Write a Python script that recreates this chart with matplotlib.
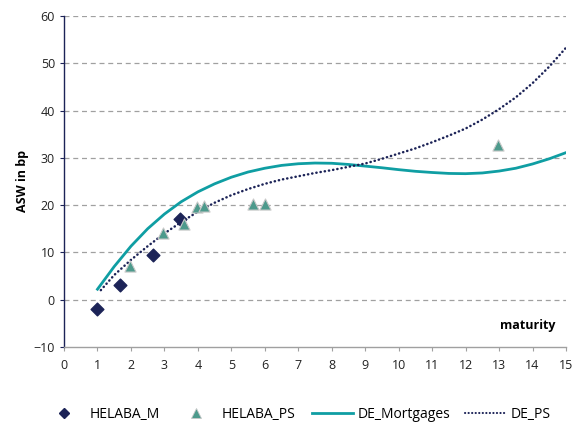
import matplotlib

matplotlib.use("Agg")
import matplotlib.pyplot as plt
from matplotlib.lines import Line2D

# observed spreads
helaba_m_x = [0.99, 1.67, 2.66, 3.47]
helaba_m_y = [-2.0, 3.0, 9.4, 17.0]

helaba_ps_x = [1.97, 2.96, 3.60, 3.97, 4.18, 5.65, 6.00, 12.97]
helaba_ps_y = [7.2, 14.0, 16.0, 19.5, 19.8, 20.3, 20.2, 32.7]

de_mort_x = [1.0, 1.5, 2.0, 2.5, 3.0, 3.5, 4.0, 4.5, 5.0, 5.5, 6.0, 6.5, 7.0, 7.5,
             8.0, 8.5, 9.0, 9.5, 10.0, 10.5, 11.0, 11.5, 12.0, 12.5, 13.0, 13.5,
             14.0, 14.5, 15.0]
de_mort_y = [2.2, 7.0, 11.3, 15.0, 18.1, 20.7, 22.8, 24.5, 25.9, 27.0, 27.8, 28.4,
             28.75, 28.9, 28.85, 28.6, 28.25, 27.9, 27.5, 27.15, 26.9, 26.7, 26.65,
             26.8, 27.2, 27.8, 28.7, 29.8, 31.1]

de_ps_x = [1.1, 1.5, 2.0, 2.5, 3.0, 3.5, 4.0, 4.5, 5.0, 5.5, 6.0, 6.5, 7.0, 7.5,
           8.0, 8.5, 9.0, 9.5, 10.0, 10.5, 11.0, 11.5, 12.0, 12.5, 13.0, 13.5,
           14.0, 14.5, 15.0]
de_ps_y = [2.0, 5.2, 8.4, 11.3, 14.0, 16.4, 18.6, 20.5, 22.1, 23.4, 24.5, 25.4,
           26.1, 26.8, 27.4, 28.1, 28.8, 29.8, 30.9, 32.0, 33.3, 34.7, 36.2, 38.1,
           40.3, 42.8, 45.8, 49.3, 53.3]

x_ticks = list(range(0, 16))
y_ticks = list(range(-10, 61, 10))

NAVY = "#1c2357"
TEAL_PT = "#4d9a8c"
TEAL_LN = "#0f9ea3"
GRID = "#a0a0a0"
DOTS = (0, (0.1, 1.6))

plt.rcParams["font.family"] = ["Open Sans", "DejaVu Sans"]

fig = plt.figure(figsize=(5.82, 4.23), dpi=100)
ax = fig.add_axes([0.110, 0.180, 0.8625, 0.782])

ax.plot(de_mort_x, de_mort_y, color=TEAL_LN, lw=2.0, zorder=3)
ax.plot(de_ps_x, de_ps_y, color=NAVY, lw=1.8, linestyle=DOTS,
        dash_capstyle="round", zorder=3)
ax.scatter(helaba_m_x, helaba_m_y, marker="D", s=42, color=NAVY, zorder=4)
ax.scatter(helaba_ps_x, helaba_ps_y, marker="^", s=64, color=TEAL_PT,
           edgecolors="#c8c8c8", linewidths=0.8, zorder=5)

ax.set_xlim(0, 15)
ax.set_ylim(-10, 60)
ax.set_xticks(x_ticks)
ax.set_yticks(y_ticks)
ax.tick_params(axis="both", labelsize=9, length=3)
ax.tick_params(axis="x", colors=GRID, labelcolor="#222222", pad=6)
ax.tick_params(axis="y", colors=NAVY, labelcolor="#222222")

for y in y_ticks[1:]:
    ax.axhline(y, color=GRID, lw=0.9, linestyle=(0, (4, 3)), zorder=1)

for side in ("top", "right"):
    ax.spines[side].set_visible(False)
ax.spines["left"].set_color(NAVY)
ax.spines["left"].set_linewidth(1.0)
ax.spines["bottom"].set_color(GRID)
ax.spines["bottom"].set_linewidth(1.0)

ax.set_ylabel("ASW in bp", fontsize=9, fontweight="bold", labelpad=3)
ax.text(13.87, -5.5, "maturity", fontsize=9, fontweight="bold",
        ha="center", va="center")

handles = [
    Line2D([], [], marker="D", color=NAVY, linestyle="none", markersize=5),
    Line2D([], [], marker="^", color=TEAL_PT, markeredgecolor="#c8c8c8",
           markeredgewidth=0.6, linestyle="none", markersize=6.5),
    Line2D([], [], color=TEAL_LN, lw=2.0),
    Line2D([], [], color=NAVY, lw=1.5, linestyle=DOTS, dash_capstyle="round"),
]
labels = ["HELABA_M", "HELABA_PS", "DE_Mortgages", "DE_PS"]
# Excel spaces the legend entries unevenly, so place each one on its own
legend_left = [44, 176, 312, 465]
for h, lab, px in zip(handles, labels, legend_left):
    fig.legend([h], [lab], loc="center left", bbox_to_anchor=(px / 582, 9 / 423),
               frameon=False, fontsize=10, handlelength=2.95, handletextpad=0.3,
               borderpad=0, borderaxespad=0)

fig.savefig("out.png", dpi=100)
